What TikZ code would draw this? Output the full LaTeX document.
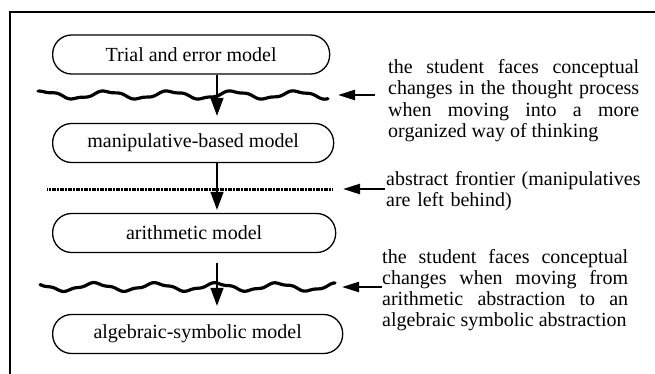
\documentclass[tikz,border=0pt]{standalone}
\usepackage{fontspec}
\setmainfont{Liberation Serif}
\usetikzlibrary{arrows.meta,calc}
\newcommand\loosepar{\tolerance=10000\relax\hyphenpenalty=10000\relax}

\begin{document}
\begin{tikzpicture}[x=1pt,y=-1pt,
  model/.style={draw,line width=1.3pt,rounded corners=19pt,minimum height=39pt,
    anchor=west,inner sep=0pt,font=\fontsize{20}{22}\selectfont},
  note/.style={anchor=north west,inner sep=0pt,font=\fontsize{20}{21}\selectfont},
  wave/.style={line width=3.2pt,line cap=round,line join=round},
  frontier/.style={line width=3pt,dash pattern=on 1.2pt off 0.4pt},
  flow/.style={-{Triangle[length=18pt,width=13pt]},line width=1.3pt},
  pointer/.style={-{Triangle[length=17pt,width=10pt]},line width=2.4pt}]
\useasboundingbox (0,0) rectangle (655,374);
% frame
\draw[line width=2.4pt] (10,374) -- (10,12) -- (655,12);

% models
\node[model,minimum width=277pt] (trial) at (52,54.5) {Trial and error model};
\node[model,minimum width=281pt] (manip) at (52,143) {manipulative-based model};
\node[model,minimum width=283pt] (arith) at (52,233) {arithmetic model};
\node[model,minimum width=290pt] (alg) at (52,334) {algebraic-symbolic model};

% frontiers
\draw[wave] plot[domain=38:328,samples=150,smooth]
  (\x,{95+3.6*sin(5.7*\x+20)+0.9*sin(17*\x)});
\coordinate (w1) at (328,95);
\draw[frontier] (47,189) -- (332,189);
\coordinate (w2) at (332,189);
\draw[wave] plot[domain=40:335,samples=150,smooth]
  (\x,{287+3.6*sin(5.9*\x+70)+0.9*sin(18*\x+30)});
\coordinate (w3) at (335,287);

\coordinate (axis) at (217,0);
\draw[flow] (trial.south -| axis) -- ($(manip.north -| axis)+(0,-7)$);
\draw[flow] (manip.south -| axis) -- ($(arith.north -| axis)+(0,-3)$);
\draw[flow] ($(arith.south -| axis)+(0,10)$) -- ($(alg.north -| axis)+(0,-8)$);

% remarks
\node[note,text width=251pt,align=justify,font=\fontsize{20}{21.5}\selectfont] (n1) at (388,59)
  {\loosepar the student faces conceptual\linebreak changes in the thought process\linebreak
   when moving into a more\linebreak organized way of thinking};
\node[note,text width=265pt,align=left] (n2) at (386,171)
  {abstract frontier (manipulatives\\are left behind)};
\node[note,text width=246pt,align=justify] (n3) at (382,249)
  {\loosepar the student faces conceptual\linebreak changes when moving from\linebreak
   arithmetic abstraction to an\linebreak algebraic symbolic abstraction};

\draw[pointer] ($(n1.west |- w1)+(-13,0)$) -- ($(w1)+(10,0)$);
\draw[pointer] ($(n2.west |- w2)+(-1,0)$) -- ($(w2)+(11,0)$);
\draw[pointer] ($(n3.west |- w3)+(0,0)$) -- ($(w3)+(7,0)$);
\end{tikzpicture}
\end{document}
